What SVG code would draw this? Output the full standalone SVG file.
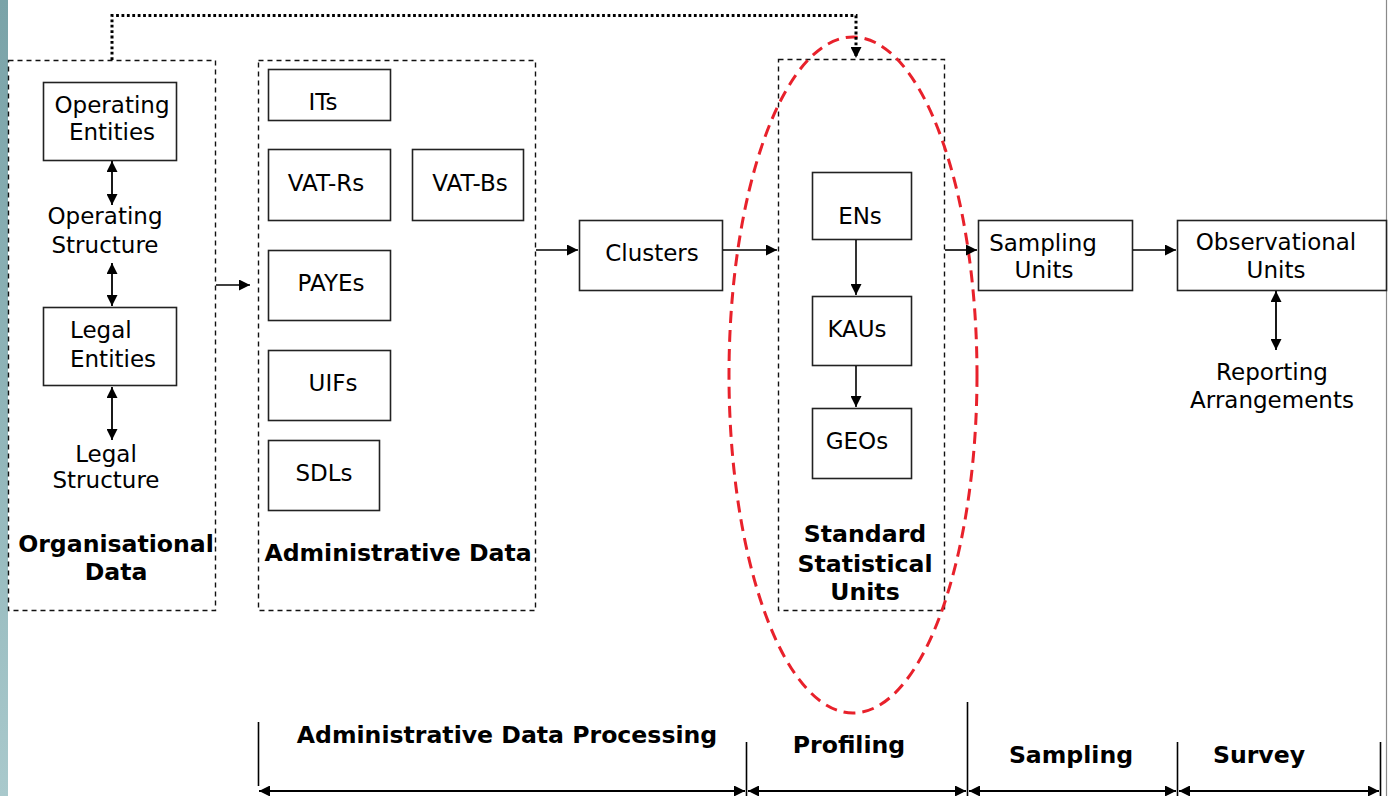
<svg xmlns="http://www.w3.org/2000/svg" width="1391" height="796" viewBox="0 0 1391 796">
<defs>
<linearGradient id="strip" x1="0" y1="0" x2="0" y2="1">
<stop offset="0" stop-color="#7aa3a8"/>
<stop offset="0.5" stop-color="#8fb4b8"/>
<stop offset="1" stop-color="#a9c9cc"/>
</linearGradient>
<marker id="ah" viewBox="0 0 10 10" refX="10" refY="5" markerWidth="12" markerHeight="11" markerUnits="userSpaceOnUse" orient="auto-start-reverse">
<path d="M0,0 L10,5 L0,10 Z" fill="#000"/>
</marker>
</defs>
<style>
text{font-family:"DejaVu Sans","Liberation Sans",sans-serif;font-size:23px;fill:#000;text-anchor:middle}
.b{font-weight:bold;font-size:23.6px}
.box{fill:#fff;stroke:#222;stroke-width:1.6}
.grp{fill:none;stroke:#111;stroke-width:1.4;stroke-dasharray:5 4}
.ln{fill:none;stroke:#000;stroke-width:1.6}
.arr{fill:none;stroke:#000;stroke-width:1.6;marker-end:url(#ah)}
.dbl{fill:none;stroke:#000;stroke-width:1.8;marker-start:url(#ah);marker-end:url(#ah)}
</style>
<rect x="0" y="0" width="1391" height="796" fill="#fff"/>
<rect x="0" y="0" width="8" height="796" fill="url(#strip)"/>
<line x1="1386.5" y1="0" x2="1386.5" y2="796" stroke="#8a8a8a" stroke-width="1.2"/>

<g id="org-group">
<rect class="grp" x="8.5" y="60.5" width="207" height="550"/>
<text class="b" x="116" y="552">Organisational</text>
<text class="b" x="116" y="580">Data</text>
</g>
<g id="operating-entities">
<rect class="box" x="43.5" y="82.5" width="133" height="78"/>
<text x="112" y="113">Operating</text>
<text x="112" y="140">Entities</text>
</g>
<g id="operating-structure">
<text x="105" y="224">Operating</text>
<text x="105" y="253">Structure</text>
</g>
<g id="legal-entities">
<rect class="box" x="43.5" y="307.5" width="133" height="78"/>
<text x="70" y="338" style="text-anchor:start">Legal</text>
<text x="70" y="367" style="text-anchor:start">Entities</text>
</g>
<g id="legal-structure">
<text x="106" y="462">Legal</text>
<text x="106" y="488">Structure</text>
</g>

<g id="admin-group">
<rect class="grp" x="258.5" y="60.5" width="277" height="550"/>
<text class="b" x="398" y="561">Administrative Data</text>
</g>
<g id="its"><rect class="box" x="268.5" y="69.5" width="122" height="51"/><text x="323" y="110">ITs</text></g>
<g id="vat-rs"><rect class="box" x="268.5" y="149.5" width="122" height="71"/><text x="326" y="191">VAT-Rs</text></g>
<g id="vat-bs"><rect class="box" x="412.5" y="149.5" width="111" height="71"/><text x="470" y="191">VAT-Bs</text></g>
<g id="payes"><rect class="box" x="268.5" y="250.5" width="122" height="70"/><text x="331" y="291">PAYEs</text></g>
<g id="uifs"><rect class="box" x="268.5" y="350.5" width="122" height="70"/><text x="333" y="391">UIFs</text></g>
<g id="sdls"><rect class="box" x="268.5" y="440.5" width="111" height="70"/><text x="324" y="481">SDLs</text></g>

<g id="clusters"><rect class="box" x="579.5" y="220.5" width="143" height="70"/><text x="652" y="261">Clusters</text></g>

<g id="ssu-group">
<rect class="grp" x="778.5" y="59.5" width="166" height="551"/>
<text class="b" x="865" y="542">Standard</text>
<text class="b" x="865" y="572">Statistical</text>
<text class="b" x="865" y="600">Units</text>
</g>
<g id="ens"><rect class="box" x="812.5" y="172.5" width="99" height="67"/><text x="860" y="224">ENs</text></g>
<g id="kaus"><rect class="box" x="812.5" y="296.5" width="99" height="69"/><text x="857" y="337">KAUs</text></g>
<g id="geos"><rect class="box" x="812.5" y="408.5" width="99" height="70"/><text x="857" y="449">GEOs</text></g>

<g id="sampling-units"><rect class="box" x="978.5" y="220.5" width="154" height="70"/><text x="1043" y="251">Sampling</text><text x="1044" y="278">Units</text></g>
<g id="observational-units"><rect class="box" x="1177.5" y="220.5" width="209" height="70"/><text x="1276" y="250">Observational</text><text x="1276" y="278">Units</text></g>
<g id="reporting-arrangements"><text x="1272" y="380">Reporting</text><text x="1272" y="408">Arrangements</text></g>

<g id="profiling-ellipse">
<ellipse cx="853" cy="375" rx="124" ry="338" fill="none" stroke="#e8212b" stroke-width="3" stroke-dasharray="12 7"/>
</g>

<g id="connectors">
<path d="M112,60 V15.5 H856 V58" fill="none" stroke="#000" stroke-width="3" stroke-dasharray="2.8 2.6" marker-end="url(#ah)"/>
<path class="dbl" d="M112,161 V205"/>
<path class="dbl" d="M112,263 V306"/>
<path class="dbl" d="M112,387 V440"/>
<path class="arr" d="M216,285 H250"/>
<path class="arr" d="M536,250 H578"/>
<path class="arr" d="M723,250 H777"/>
<path class="arr" d="M945,250 H977"/>
<path class="arr" d="M1133,250 H1176"/>
<path class="arr" d="M856,240 V295"/>
<path class="arr" d="M856,366 V407"/>
<path class="dbl" d="M1276,291 V350"/>
</g>

<g id="timeline">
<path class="ln" d="M258.5,722 V786 M746.5,742 V796 M967.5,702 V796 M1177.5,742 V796 M1380.5,742 V796"/>
<path class="dbl" d="M259,791 H745"/>
<path class="dbl" d="M748,791 H966"/>
<path class="dbl" d="M969,791 H1176"/>
<path class="dbl" d="M1179,791 H1379"/>
<text class="b" x="507" y="743">Administrative Data Processing</text>
<text class="b" x="849" y="753">Profiling</text>
<text class="b" x="1071" y="763">Sampling</text>
<text class="b" x="1259" y="763">Survey</text>
</g>
</svg>
